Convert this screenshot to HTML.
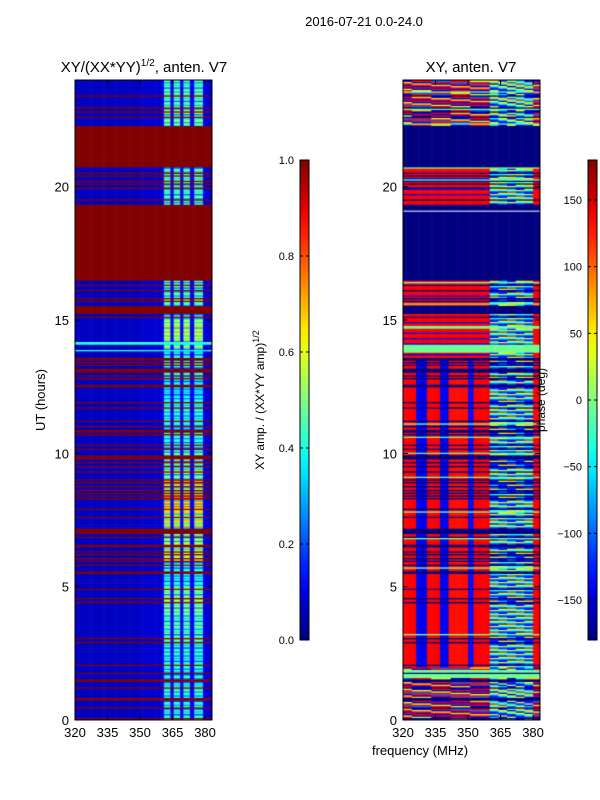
<!DOCTYPE html>
<html><head><meta charset="utf-8">
<style>
html,body{margin:0;padding:0;background:#fff;}
#wrap{position:relative;width:600px;height:800px;overflow:hidden;font-family:"Liberation Sans",sans-serif;}
canvas{position:absolute;}
svg{position:absolute;left:0;top:0;}
</style></head>
<body>
<div id="wrap">
<canvas id="ampCanvas" width="137" height="640" style="left:75px;top:80px"></canvas>
<canvas id="phaseCanvas" width="137" height="640" style="left:403px;top:80px"></canvas>
<svg id="ov" width="600" height="800"></svg>
</div>
<script>
// ---- data ----
const freqMin = 320, freqMax = 383.2, tMin = 0, tMax = 24;
const xTicks = [320, 335, 350, 365, 380];
const yTicks = [0, 5, 10, 15, 20];
const ampTicks = [0.0, 0.2, 0.4, 0.6, 0.8, 1.0];
const phaseTicks = [-150, -100, -50, 0, 50, 100, 150];
// flagged time intervals (hours)
const flagStart = [20.75,16.5,23.42,22.95,22.78,22.58,20.48,20.38,20.18,20.08,19.94,19.48,16.28,16.08,15.78,15.68,15.26,15.08,13.5,13.38,13.28,13.06,12.92,12.78,12.5,11.88,11.68,11.18,10.98,10.8,10.68,10.28,10.13,9.8,9.63,9.52,9.32,8.98,8.88,8.73,8.58,8.48,8.38,8.28,7.88,7.58,7.0,6.85,6.5,6.28,6.18,6.03,5.93,5.78,5.5,4.88,4.53,4.38,3.04,2.88,2.04,1.73,1.47,1.18,0.75,0.46,0.07];
const flagEnd   = [22.29,19.34,23.47,23.0,22.83,22.63,20.53,20.43,20.23,20.13,19.99,19.53,16.33,16.13,15.83,15.73,15.56,15.13,13.6,13.43,13.33,13.2,12.97,12.83,12.6,11.93,11.73,11.23,11.03,10.9,10.73,10.33,10.18,9.96,9.68,9.57,9.37,9.03,8.93,8.78,8.63,8.53,8.43,8.33,7.93,7.63,7.2,6.9,6.6,6.33,6.23,6.08,5.98,5.83,5.6,4.93,4.58,4.43,3.09,2.93,2.09,1.78,1.55,1.23,0.87,0.51,0.12];
// green (phase ~0) lines in phase plot
const greenStart = [23.57,22.88,22.33,20.72,20.23,16.38,15.58,15.08,14.68,13.8,11.12,10.58,9.98,9.08,7.78,6.78,5.68,3.18,1.6];
const greenEnd   = [23.62,22.93,22.38,20.77,20.28,16.43,15.63,15.13,14.78,14.12,11.17,10.63,10.03,9.13,7.83,6.83,5.73,3.26,1.9];
// amplitude intensity of high-freq stripes per hour 0..23
const stripeAmp = [0.45,0.45,0.45,0.5,0.55,0.45,0.6,0.72,0.78,0.55,0.45,0.45,0.42,0.45,0.65,0.5,0.5,0.5,0.5,0.5,0.5,0.45,0.55,0.5];
const stripeLo = [361,365.5,370,375];
const stripeHi = [364,368.5,373,379];
const rowTexture = [1,0.6,1,0.85,0.45,1,0.7,0.95,0.55,0.9];
// phase low-frequency column segments
const phaseSegLo = [320,326.2,330.8,337,340.8,350,352.3];
const phaseSegHi = [326.2,330.8,337,340.8,350,352.3,360];
const phaseSegVal = [135,-140,135,-140,130,-130,135];
const phaseHighPattern = [-120,-40,40,-150,-20,60,-100,10,-60,-140,30,-130];
const phaseMixPattern = [135,-140,135,60,-150,135,-100,135,30,-160];
const phaseRedBluePattern = [135,135,-140,135,135,135,-140,135];

// ---- scales ----
function xs(f){return (f-freqMin)/(freqMax-freqMin)*137;}
function ys(t){return 640-(t-tMin)/(tMax-tMin)*640;}
function jet(v){v=Math.max(0,Math.min(1,v));
 const r=Math.max(0,Math.min(1,1.5-Math.abs(4*v-3)));
 const g=Math.max(0,Math.min(1,1.5-Math.abs(4*v-2)));
 const b=Math.max(0,Math.min(1,1.5-Math.abs(4*v-1)));
 return `rgb(${Math.round(r*255)},${Math.round(g*255)},${Math.round(b*255)})`;}
function inAny(t,s,e){for(let i=0;i<s.length;i++){if(t>=s[i]&&t<e[i])return true;}return false;}
function isFlag(t){return inAny(t,flagStart,flagEnd);}

const dt=0.05, df=0.5;
const nRows=Math.round((tMax-tMin)/dt), nCols=Math.ceil((freqMax-freqMin)/df);
function ampVal(r,c){
 const t=tMin+(r+0.5)*dt, f=freqMin+(c+0.5)*df;
 if(isFlag(t)) return 1.0;
 if((t>=14.1&&t<14.2)||(t>=13.85&&t<13.92)) return 0.42;
 for(let i=0;i<stripeLo.length;i++){if(f>=stripeLo[i]&&f<stripeHi[i]) return stripeAmp[Math.floor(t)]*rowTexture[r%rowTexture.length];}
 if(f>=360&&f<380) return 0.12;
 return f>350?0.08:0.065;
}
function phaseVal(r,c){
 const t=tMin+(r+0.5)*dt, f=freqMin+(c+0.5)*df;
 if(isFlag(t)) return -180;
 if(inAny(t,greenStart,greenEnd)) return -5;
 if(t>=22.29||t<2){ if(f>=360&&f<380) return phaseHighPattern[(r+Math.floor(f/4))%phaseHighPattern.length]; return phaseMixPattern[(r+Math.floor(f/9))%phaseMixPattern.length];}
 if(f>=380) return 135;
 if(f>=360) return phaseHighPattern[(r+Math.floor((f-360)/4)*3)%phaseHighPattern.length];
 if(t>=13.6){ return phaseRedBluePattern[r%phaseRedBluePattern.length]; }
 for(let i=0;i<phaseSegLo.length;i++){if(f>=phaseSegLo[i]&&f<phaseSegHi[i]) return phaseSegVal[i];}
 return 135;
}
function drawHeat(id,fn,vmin,vmax){
 const ctx=document.getElementById(id).getContext('2d');
 for(let r=0;r<nRows;r++){
  const t0=tMin+r*dt, t1=t0+dt, y0=ys(t1), y1=ys(t0);
  for(let c=0;c<nCols;c++){
   const f0=freqMin+c*df, f1=f0+df;
   ctx.fillStyle=jet((fn(r,c)-vmin)/(vmax-vmin));
   ctx.fillRect(xs(f0),y0,xs(f1)-xs(f0)+0.6,y1-y0+0.6);
  }
 }
 if(id==='phaseCanvas'){ctx.fillStyle='#fff';ctx.fillRect(0,ys(19.1),137,1);}
}
drawHeat('ampCanvas',ampVal,0,1);
drawHeat('phaseCanvas',phaseVal,-180,180);

// ---- overlay ----
const NS='http://www.w3.org/2000/svg';
const ov=document.getElementById('ov');
function mk(tag,attrs,name,text){const e=document.createElementNS(NS,tag);for(const k in attrs)e.setAttribute(k,attrs[k]);
 
 
 if(text!==undefined)e.textContent=text;ov.appendChild(e);return e;}

const panels=[{x:75,name:'amp'},{x:403,name:'phase'}];
panels.forEach(p=>{
 mk('rect',{x:p.x,y:80,width:137,height:640,fill:'none',stroke:'#000','stroke-width':1},p.name+'-frame');
 xTicks.forEach(v=>{const x=p.x+xs(v);
  mk('line',{x1:x,y1:720,x2:x,y2:715,stroke:'#000'},p.name+'-x-tick');
  mk('line',{x1:x,y1:80,x2:x,y2:85,stroke:'#000'},p.name+'-x-tick-top');
  mk('text',{x:x,y:737,'text-anchor':'middle','font-size':13},p.name+'-x-tick-label',String(v));});
 yTicks.forEach(v=>{const y=80+ys(v);
  mk('line',{x1:p.x,y1:y,x2:p.x+5,y2:y,stroke:'#000'},p.name+'-y-tick');
  mk('line',{x1:p.x+137,y1:y,x2:p.x+132,y2:y,stroke:'#000'},p.name+'-y-tick-right');
  mk('text',{x:p.x-6,y:y+5,'text-anchor':'end','font-size':13},p.name+'-y-tick-label',String(v));});
});
mk('text',{x:364,y:26,'text-anchor':'middle','font-size':13},'figure-title','2016-07-21 0.0-24.0');
const t1=mk('text',{x:144,y:72,'text-anchor':'middle','font-size':15},'amp-panel-title');
t1.innerHTML='XY/(XX*YY)<tspan dy="-6" font-size="10">1/2</tspan><tspan dy="6">, anten. V7</tspan>';
mk('text',{x:471,y:72,'text-anchor':'middle','font-size':15},'phase-panel-title','XY, anten. V7');
mk('text',{x:45,y:400,'text-anchor':'middle','font-size':13,transform:'rotate(-90 45 400)'},'y-axis-title','UT (hours)');
mk('text',{x:420,y:755,'text-anchor':'middle','font-size':13},'x-axis-title','frequency (MHz)');

// colorbars
const defs=mk('defs',{},'gradients');
const g=document.createElementNS(NS,'linearGradient');g.setAttribute('id','jetg');g.setAttribute('x1','0');g.setAttribute('y1','1');g.setAttribute('x2','0');g.setAttribute('y2','0');
for(let i=0;i<=20;i++){const s=document.createElementNS(NS,'stop');s.setAttribute('offset',i/20);s.setAttribute('stop-color',jet(i/20));g.appendChild(s);}
defs.appendChild(g);
[{x:300,name:'amp',ticks:ampTicks,lo:0,hi:1,fmt:v=>v.toFixed(1)},{x:588,name:'phase',ticks:phaseTicks,lo:-180,hi:180,fmt:v=>v<0?'\u2212'+(-v):String(v)}].forEach(cb=>{
 mk('rect',{x:cb.x,y:160,width:9,height:480,fill:'url(#jetg)',stroke:'#000','stroke-width':1},cb.name+'-colorbar');
 cb.ticks.forEach(v=>{const y=640-(v-cb.lo)/(cb.hi-cb.lo)*480;
  mk('line',{x1:cb.x,y1:y,x2:cb.x+3,y2:y,stroke:'#000'},cb.name+'-colorbar-tick');
  mk('line',{x1:cb.x+9,y1:y,x2:cb.x+6,y2:y,stroke:'#000'},cb.name+'-colorbar-tick-right');
  mk('text',{x:cb.x-6,y:y+4,'text-anchor':'end','font-size':11},cb.name+'-colorbar-label',cb.fmt(v));});
});
const cl=mk('text',{x:264,y:400,'text-anchor':'middle','font-size':12,transform:'rotate(-90 264 400)'},'amp-colorbar-title');
cl.innerHTML='XY amp. / (XX*YY amp)<tspan dy="-5" font-size="9">1/2</tspan>';
mk('text',{x:545,y:400,'text-anchor':'middle','font-size':12,transform:'rotate(-90 545 400)'},'phase-colorbar-title','phase (deg)');
</script>
</body></html>
